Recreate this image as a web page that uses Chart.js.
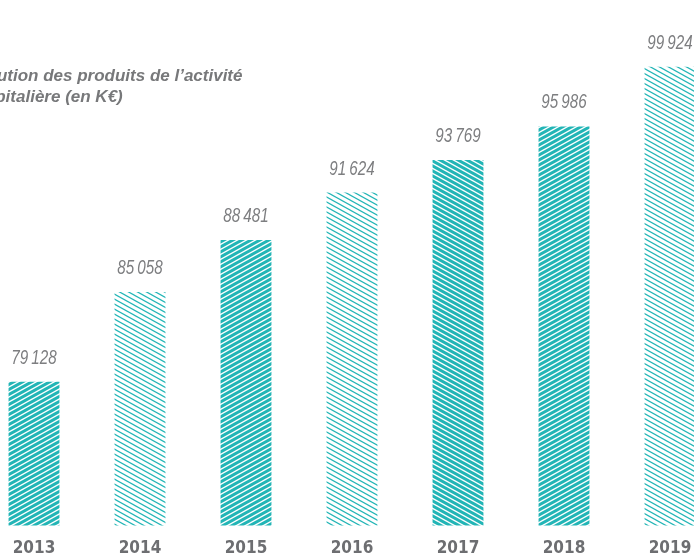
<!DOCTYPE html>
<html lang="fr">
<head>
<meta charset="utf-8">
<script src="https://cdn.jsdelivr.net/npm/chart.js@4.4.1/dist/chart.umd.min.js"></script>
<style>
    html, body { margin: 0; padding: 0; background: #fff; overflow: hidden; width: 694px; height: 556px; position: relative; }
    #cadre { position: absolute; left: -19px; top: 0; width: 742px; height: 571px; }
    #titre {
        position: absolute; left: -35px; top: 65px;
        font: italic bold 17px/21px "Liberation Sans", Arial, sans-serif;
        color: #77787a; white-space: nowrap;
    }
    #titre span { display: block; }
    #titre .l1 { margin-left: -4px; }
</style>
</head>
<body>
<div id="cadre"><canvas id="produitsChart"></canvas></div>
<div id="titre"><span class="l1">Évolution des produits de l’activité</span><span>hospitalière (en K€)</span></div>
<script>
// Données
const annees = ['2013', '2014', '2015', '2016', '2017', '2018', '2019'];
const produits = [79128, 85058, 88481, 91624, 93769, 95986, 99924];
const echelleMin = 69640;
const echelleMax = 104340;

// Hachures : dense montante, claire descendante, dense descendante
const TURQUOISE = '#22b5b6';
const motifs = ['dense/', 'clair', 'dense/', 'clair', 'dense\\', 'dense/', 'clair'];

function hachure(montante, epaisseur) {
    const w = 9, h = 5;
    const c = document.createElement('canvas');
    c.width = w;
    c.height = h;
    const g = c.getContext('2d');
    g.fillStyle = '#fff';
    g.fillRect(0, 0, w, h);
    g.strokeStyle = TURQUOISE;
    g.lineWidth = epaisseur;
    // traits prolongés au-delà du carreau pour éviter les coupures
    for (const x0 of [-2 * w, -w, 0, w, 2 * w]) {
        g.beginPath();
        if (montante) {
            g.moveTo(x0 - w, 2 * h);
            g.lineTo(x0 + 2 * w, -h);
        } else {
            g.moveTo(x0 - w, -h);
            g.lineTo(x0 + 2 * w, 2 * h);
        }
        g.stroke();
    }
    return g.createPattern(c, 'repeat');
}

const ctxMotif = {
    'dense/': hachure(true, 3.0),
    'dense\\': hachure(false, 3.0),
    'clair': hachure(false, 1.2)
};

const formatK = v => String(v).replace(/\B(?=(\d{3})+(?!\d))/g, '\u2009');

// Valeurs au-dessus des barres (police resserrée horizontalement)
const etiquettes = {
    id: 'etiquettes',
    afterDatasetsDraw(chart) {
        const ctx = chart.ctx;
        const meta = chart.getDatasetMeta(0);
        meta.data.forEach((barre, i) => {
            ctx.save();
            ctx.translate(barre.x, barre.y - 18);
            ctx.scale(0.78, 1);
            ctx.font = 'italic 19.5px "Liberation Sans", Arial, sans-serif';
            ctx.fillStyle = '#7d7e80';
            ctx.textAlign = 'center';
            ctx.textBaseline = 'alphabetic';
            ctx.fillText(formatK(produits[i]), 0, 0);
            ctx.restore();
        });
    }
};

const ctx = document.getElementById('produitsChart').getContext('2d');
new Chart(ctx, {
    type: 'bar',
    data: {
        labels: annees,
        datasets: [{
            data: produits,
            backgroundColor: motifs.map(m => ctxMotif[m]),
            borderWidth: 0,
            categoryPercentage: 1,
            barPercentage: 0.48
        }]
    },
    options: {
        responsive: true,
        maintainAspectRatio: false,
        animation: false,
        layout: { padding: 0 },
        plugins: {
            legend: { display: false },
            tooltip: { enabled: false }
        },
        scales: {
            x: {
                grid: { display: false, drawTicks: false },
                border: { display: false },
                ticks: {
                    color: '#6d6e71',
                    padding: 12.6,
                    font: { family: '"DejaVu Sans Condensed", "Liberation Sans", sans-serif', size: 17, weight: 'bold' }
                }
            },
            y: {
                display: false,
                min: echelleMin,
                max: echelleMax
            }
        }
    },
    plugins: [etiquettes]
});
</script>
</body>
</html>
